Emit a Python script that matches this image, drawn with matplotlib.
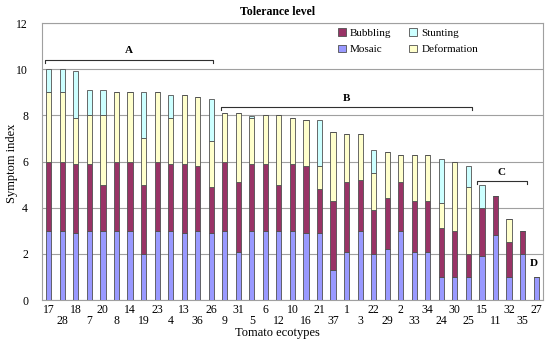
import matplotlib
matplotlib.use('Agg')
import matplotlib.pyplot as plt
import numpy as np

plt.rcParams['font.family'] = ['Liberation Serif', 'DejaVu Serif']

ecotypes = ['17', '28', '18', '7', '20', '8', '14', '19', '23', '4', '13', '36', '26', '9',
            '31', '5', '6', '12', '10', '16', '21', '37', '1', '3', '22', '29', '2', '33',
            '34', '24', '30', '25', '15', '11', '32', '35', '27']
mosaic = [3, 3, 2.9, 3, 3, 3, 3, 2, 3, 3, 2.9, 3, 2.9, 3, 2.1, 3, 3, 3, 3, 2.9, 2.9, 1.3,
          2.1, 3, 2, 2.2, 3, 2.1, 2.1, 1, 1, 1, 1.9, 2.8, 1, 2, 1]
bubbling = [3, 3, 3, 2.9, 2, 3, 3, 3, 3, 2.9, 3, 2.8, 2, 3, 3, 2.9, 2.9, 2, 2.9, 2.9, 1.9, 3,
            3, 2.2, 1.9, 2.2, 2.1, 2.2, 2.2, 2.1, 2, 1, 2.1, 1.7, 1.5, 1, 0]
deformation = [3, 3, 2, 2.1, 3, 3, 3, 2, 3, 2, 3, 3, 2, 2.1, 3, 2, 2.1, 3, 2, 2, 1, 3,
               2.1, 2, 1.6, 2, 1.2, 2, 2, 1.1, 3, 2.9, 0, 0, 1, 0, 0]
stunting = [1, 1, 2, 1.1, 1.1, 0, 0, 2, 0, 1, 0, 0, 1.8, 0, 0, 0.05, 0, 0, 0, 0, 2, 0,
            0, 0, 1, 0, 0, 0, 0, 1.9, 0, 0.9, 1, 0, 0, 0, 0]
groups = ['A', 'B', 'C']
group_spans = [(-0.3, 12.1, 10.4), (12.7, 31.3, 8.35), (31.6, 35.3, 5.15)]

fig = plt.figure(figsize=(5.5, 3.47), dpi=100)
ax = fig.add_axes([0.0764, 0.1354, 0.9106, 0.7983])

x = np.arange(len(ecotypes))
w = 0.38
ec = '#505050'
m = np.array(mosaic)
b = np.array(bubbling)
d = np.array(deformation)
s = np.array(stunting)
ax.bar(x, m, w, color='#9999FF', edgecolor=ec, linewidth=0.6, label='Mosaic', zorder=3)
ax.bar(x, b, w, bottom=m, color='#993366', edgecolor=ec, linewidth=0.6, label='Bubbling', zorder=3)
ax.bar(x, d, w, bottom=m + b, color='#FFFFCC', edgecolor=ec, linewidth=0.6, label='Deformation', zorder=3)
ax.bar(x, s, w, bottom=m + b + d, color='#CCFFFF', edgecolor=ec, linewidth=0.6, label='Stunting', zorder=3)

ax.set_xlim(-0.5, len(ecotypes) - 0.5)
ax.set_ylim(0, 12)
ax.set_yticks(range(0, 13, 2))
ax.yaxis.grid(True, color='#a0a0a0', linewidth=0.8, zorder=0)
for sp in ax.spines.values():
    sp.set_color('#a0a0a0')
ax.tick_params(axis='both', length=0, labelsize=8.5)
ax.tick_params(axis='y', pad=10)
ax.set_xticks(x)
ax.set_xticklabels(ecotypes)
for tick in ax.xaxis.get_major_ticks()[1::2]:
    tick.set_pad(11)
for tick in ax.xaxis.get_major_ticks()[0::2]:
    tick.set_pad(3)

# group brackets
for g, (x0, x1, y) in zip(groups, group_spans):
    ax.plot([x0, x0, x1, x1], [y - 0.12, y, y, y - 0.12], color='#303030', lw=0.8, zorder=4)
    ax.text((x0 + x1) / 2, y + 0.2, g, ha='center', va='bottom', fontsize=8, fontweight='bold')
ax.text(35.8, 1.6, 'D', ha='center', va='center', fontsize=8, fontweight='bold')

h, l = ax.get_legend_handles_labels()
order = [1, 0, 3, 2]
ax.legend([h[i] for i in order], [l[i] for i in order], ncol=2, frameon=False,
          loc='upper left', bbox_to_anchor=(0.604, 0.935), bbox_transform=fig.transFigure,
          fontsize=8, handlelength=0.7, handleheight=0.7, handletextpad=0.4,
          columnspacing=1.6, labelspacing=0.6, borderpad=0)

fig.text(0.505, 0.965, 'Tolerance level', ha='center', va='center', fontsize=8.5, fontweight='bold')
fig.text(0.505, 0.04, 'Tomato ecotypes', ha='center', va='center', fontsize=9)
fig.text(0.022, 0.53, 'Symptom index', ha='center', va='center', rotation=90, fontsize=9)

fig.savefig('out.png', dpi=100)
